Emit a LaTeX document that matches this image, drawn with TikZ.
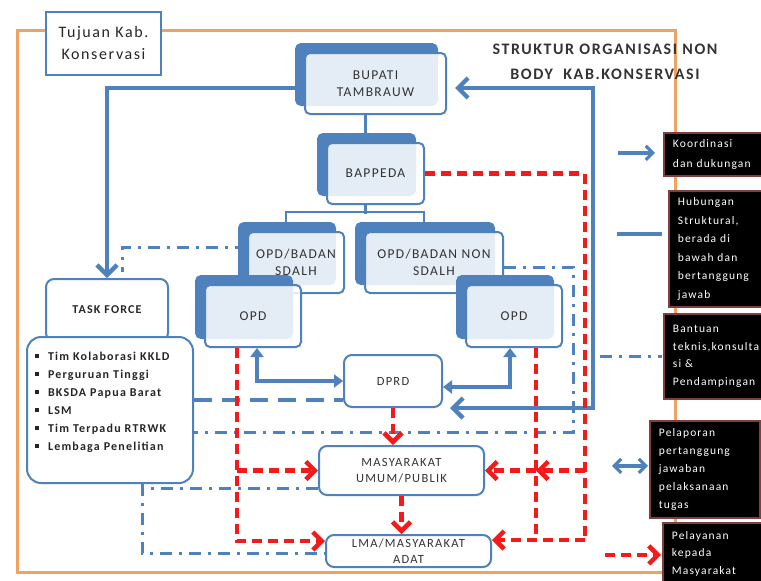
\documentclass[tikz,border=0pt]{standalone}
\usepackage{fontspec}
\setmainfont{Carlito}[LetterSpace=10]
\usepackage{tikz}
\usetikzlibrary{arrows.meta,positioning,calc,shadows}
\definecolor{ofblue}{HTML}{4F81BD}
\definecolor{ofred}{HTML}{F51A1A}
\definecolor{ofrange}{HTML}{F0A262}
\definecolor{legborder}{HTML}{7F3F3F}
\definecolor{txtgray}{HTML}{333333}
\tikzstyle{bingkai}=[ofrange,line width=3pt]
\tikzstyle{folder}=[draw=ofblue,line width=2pt,rounded corners=5pt,fill=white,fill opacity=0.85,text opacity=1,text=txtgray,align=center,font=\fontsize{13.5}{17}\selectfont,copy shadow={shadow xshift=-9pt,shadow yshift=9pt,fill=ofblue,draw=ofblue,fill opacity=1}]
\tikzstyle{kotak}=[draw=ofblue,line width=2pt,rounded corners=8pt,fill=white,text=txtgray,align=center,font=\fontsize{12.5}{16}\selectfont]
\tikzstyle{legbox}=[draw=legborder,line width=1.8pt,fill=black,text=white,anchor=north west,align=left,text width=92pt,inner xsep=9pt,font=\fontsize{11.5}{18.5}\selectfont]
\tikzstyle{struktur}=[ofblue,line width=2.2pt]
\tikzstyle{koord}=[ofblue,line width=4.3pt]
\tikzstyle{konsul}=[ofblue,line width=3pt,dash pattern=on 12pt off 7pt on 3pt off 7pt]
\tikzstyle{layan}=[ofred,line width=4.5pt,dash pattern=on 10pt off 6pt]
\tikzstyle{barb}=[-{Straight Barb[length=9pt,width=18pt]}]
\newcommand{\kotakkecil}{\rule[2pt]{4pt}{4pt}\hspace{9pt}}

\begin{document}
\begin{tikzpicture}[x=1pt,y=-1pt]
\useasboundingbox (0,0) rectangle (761,581);
\draw[bingkai] (17,30) rectangle (675,572);
\node[draw=ofblue,line width=1.6pt,fill=white,minimum width=115pt,minimum height=63pt,align=center,text=black!85,font=\fontsize{16}{22}\selectfont] (tujuan) at (103.5,43.5) {Tujuan Kab.\\Konservasi};
\node[align=center,text=black!80,font=\bfseries\fontsize{16}{25}\selectfont] (judul) at (605,62) {STRUKTUR ORGANISASI NON\\BODY \ KAB.KONSERVASI};

% struktur organisasi
\node[folder,minimum width=141pt,minimum height=61pt] (bupati) at (375.5,83.5) {BUPATI\\TAMBRAUW};
\node[folder,minimum width=97pt,minimum height=61pt] (bappeda) at (375.5,173.5) {BAPPEDA};
\node[folder,minimum width=96pt,minimum height=61pt] (sdalh) at (296,262.5) {OPD/BADAN\\SDALH};
\node[folder,minimum width=138pt,minimum height=61pt] (nonsdalh) at (434,262.5) {OPD/BADAN NON\\SDALH};
\node[folder,minimum width=96pt,minimum height=62pt] (opdL) at (253,316) {OPD};
\node[folder,minimum width=96pt,minimum height=62pt] (opdR) at (514,316) {OPD};
\node[kotak,minimum width=122pt,minimum height=62pt,text=black!85,font=\bfseries\fontsize{12}{16}\selectfont] (taskforce) at (107,310) {TASK FORCE};
\node[kotak,minimum width=166pt,minimum height=146pt,rounded corners=14pt,align=left,text width=150pt,text=black!85,font=\bfseries\fontsize{12}{18}\selectfont] (tim) at (110,410)
  {\kotakkecil Tim Kolaborasi KKLD\\ \kotakkecil Perguruan Tinggi\\ \kotakkecil BKSDA Papua Barat\\ \kotakkecil LSM\\ \kotakkecil Tim Terpadu RTRWK\\ \kotakkecil Lembaga Penelitian\\ \mbox{}};
\node[kotak,minimum width=98pt,minimum height=52pt] (dprd) at (393,381) {DPRD};
\node[kotak,minimum width=165pt,minimum height=49pt] (masy) at (401.5,470.5) {MASYARAKAT\\UMUM/PUBLIK};
\node[kotak,minimum width=165pt,minimum height=32pt,inner ysep=0pt] (lma) at (408.5,551) {LMA/MASYARAKAT\\ADAT};

% garis struktural
\draw[struktur] ([xshift=-10pt]bupati.south) -- ([xshift=-10pt]bappeda.north);
\draw[struktur] ([xshift=-10pt]bappeda.south) -- ++(0,9);
\draw[struktur] ([xshift=-10pt]sdalh.north) -- ++(0,-19) -| ([xshift=-10pt]nonsdalh.north);

% koordinasi
\coordinate (rt) at (593,88);
\draw[koord,-{Straight Barb[length=10pt,width=20pt]}] ([yshift=-4.5pt]bupati.west) -| (taskforce.north);
\draw[koord,{Straight Barb[length=10pt,width=20pt]}-{Straight Barb[length=10pt,width=20pt]},shorten <=7pt,shorten >=8pt] (dprd.south east) -| (rt) -- (rt -| bupati.east);
\draw[koord,{Triangle[length=9pt,width=13pt]}-{Triangle[length=9pt,width=13pt]}] ([xshift=4pt]opdL.south) |- (dprd.west);
\draw[koord,{Triangle[length=9pt,width=13pt]}-{Triangle[length=9pt,width=13pt]}] ([xshift=-4pt]opdR.south) |- ([yshift=-6pt]dprd.east);
\coordinate (dl) at ([yshift=-19pt]dprd.west);
\draw[koord,dash pattern=on 18pt off 10pt] (tim.east |- dl) -- (dl);

% bantuan teknis
\coordinate (kd) at (573,432);
\coordinate (kt) at (122,272);
\coordinate (kb) at (142,553);
\coordinate (km) at ([yshift=-17.5pt]masy.west);
\draw[konsul] ([yshift=-4.5pt]nonsdalh.east) -| (kd) -- (kd -| tim.east);
\draw[konsul] ([yshift=15.5pt]sdalh.west) -| (kt);
\draw[konsul] (tim.south -| kb) -- (kb) -- (kb -| lma.west);
\draw[konsul] (km) -- (km -| kb);

% pelayanan
\coordinate (rb) at (585,540);
\coordinate (ro) at ([xshift=22pt]opdR.south);
\coordinate (rl) at ([xshift=-16pt]opdL.south);
\draw[layan] (bappeda.east) -| (rb);
\draw[layan,barb] (rb) -- (rb -| lma.east);
\draw[layan] (ro) -- (ro |- rb);
\draw[layan,barb] (rb |- masy.east) -- (ro |- masy.east);
\draw[layan,barb] (ro |- masy.east) -- (masy.east);
\draw[layan,barb] (rl) |- ([yshift=10pt]lma.west);
\draw[layan,barb] (rl |- masy.west) -- (masy.west);
\draw[layan,barb] (dprd.south) -- (dprd.south |- masy.north);
\draw[layan,barb] (masy.south) -- (masy.south |- lma.north);

% keterangan
\node[legbox,minimum height=43pt,font=\fontsize{11.5}{20}\selectfont] (leg1) at (663,132) {Koordinasi\\dan dukungan};
\node[legbox,minimum height=116pt] (leg2) at (668,190) {Hubungan\\Struktural,\\berada di\\bawah dan\\bertanggung\\jawab};
\node[legbox,minimum height=85pt,font=\fontsize{11.5}{17.5}\selectfont] (leg3) at (663,313) {Bantuan\\teknis,konsulta\\si \&\\Pendampingan};
\node[legbox,minimum height=97pt,font=\fontsize{11.5}{18}\selectfont] (leg4) at (649,420) {Pelaporan\\pertanggung\\jawaban\\pelaksanaan\\tugas};
\node[legbox,minimum height=62pt,font=\fontsize{11.5}{17.5}\selectfont] (leg5) at (662,522) {Pelayanan\\kepada\\Masyarakat};
\draw[koord,line width=3.2pt,-{Straight Barb[length=7pt,width=14pt]}] ([xshift=-45pt,yshift=1.5pt]leg1.west) -- ([xshift=-8pt,yshift=1.5pt]leg1.west);
\draw[koord,line width=3.2pt] ([xshift=-51pt,yshift=15pt]leg2.west) -- ([xshift=-6pt,yshift=15pt]leg2.west);
\draw[konsul,line width=3.2pt] ([xshift=-63pt]leg3.west) -- ([xshift=-1pt]leg3.west);
\draw[koord,line width=3.2pt,{Straight Barb[length=7pt,width=14pt]}-{Straight Barb[length=7pt,width=14pt]}] ([xshift=-37pt,yshift=3.5pt]leg4.west) -- ([xshift=-1pt,yshift=3.5pt]leg4.west);
\draw[layan,barb] ([xshift=-57pt,yshift=-1pt]leg5.west) -- ([xshift=-1pt,yshift=-1pt]leg5.west);
\end{tikzpicture}
\end{document}
